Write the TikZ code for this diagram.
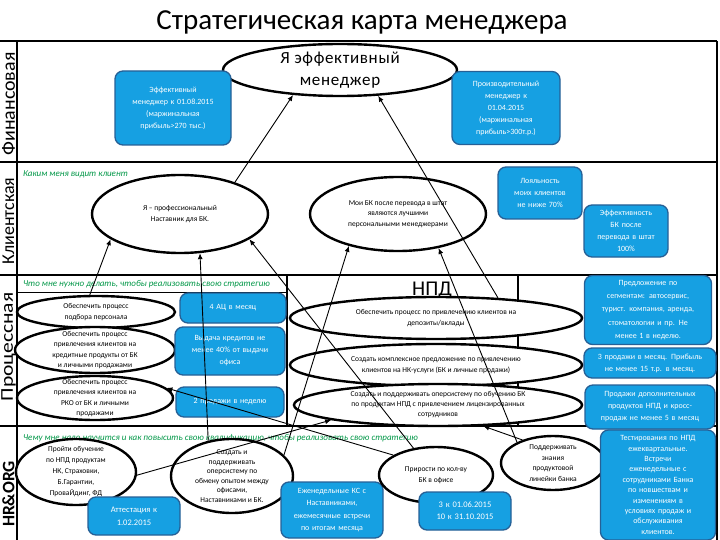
\documentclass[tikz,border=0pt]{standalone}
\usepackage{fontspec}
\setmainfont{Carlito}
\newfontfamily\spacedfont[LetterSpace=4]{Carlito}
\usetikzlibrary{shapes.geometric,arrows.meta}
\definecolor{bfill}{RGB}{22,160,226}
\definecolor{bdraw}{RGB}{38,96,150}
\definecolor{lgreen}{RGB}{0,150,70}
\tikzset{
 bbox/.style={draw=bdraw,fill=bfill,line width=1.3pt,rounded corners=8pt,text=white,align=center,
   font=\fontsize{8}{12}\selectfont,inner sep=1pt},
 ell/.style={ellipse,draw=black,fill=white,line width=2.4pt,inner sep=0pt},
 etext/.style={align=center,font=\fontsize{7.5}{10.5}\selectfont,inner sep=0pt},
 lane/.style={line width=2.2pt},
 thinlane/.style={line width=1pt},
 arr/.style={-{Latex[length=6pt,width=5pt]},line width=0.9pt},
 glabel/.style={text=lgreen,font=\itshape\fontsize{9}{10}\selectfont,anchor=west,inner sep=0pt},
 lanelbl/.style={rotate=90,inner sep=0pt}
}
\begin{document}
\begin{tikzpicture}[x=1pt,y=-1pt]
\useasboundingbox (0,0) rectangle (720,540);
\node (title) at (362,22) {\fontsize{29}{32}\selectfont Стратегическая карта менеджера};

% lanes
\draw[lane] (0,41) -- (717,41);
\draw[lane] (0,162) -- (717,162);
\draw[lane] (0,275) -- (717,275);
\draw[lane] (0,426) -- (717,426);
\draw[lane] (17,41) -- (17,540);
\draw[lane] (717,41) -- (717,540);
\draw[thinlane] (17,292) -- (287,292);
\draw[lane] (287,275) -- (287,426);
\draw[lane] (518,275) -- (518,426);

\node[lanelbl,font=\fontsize{19}{21}\selectfont] (lfin) at (8.5,104) {\scalebox{1.05}[1]{Финансовая}};
\node[lanelbl,font=\fontsize{18}{20}\selectfont] (lcli) at (8.5,221) {Клиентская};
\node[lanelbl,font=\fontsize{18}{20}\selectfont] (lpro) at (8.5,347) {\scalebox{1.2}[1]{Процессная}};
\node[lanelbl,font=\bfseries\fontsize{17.5}{20}\selectfont] (lhr) at (8.5,494) {HR\&ORG};

\node[glabel] (g1) at (23,174) {Каким меня видит клиент};
\node[glabel] (g2) at (23,284) {Что мне нужно делать, чтобы реализовать свою стратегию};
\node[glabel] (g3) at (23,438) {Чему мне надо научится и как повысить свою квалификацию, чтобы реализовать свою стратегию};

% financial
\node[ell,minimum width=234pt,minimum height=52pt,
  label={[etext,font=\spacedfont\fontsize{17}{22}\selectfont]center:{Я эффективный\\менеджер}}] (fe) at (340,70) {};
\node[bbox,minimum width=116pt,minimum height=74pt,text width=100pt] (fb1) at (173,108)
  {Эффективный\\менеджер к 01.08.2015\\(маржинальная\\прибыль>270 тыс.)};
\node[bbox,minimum width=108pt,minimum height=73pt,text width=100pt] (fb2) at (506,108)
  {Производительный\\менеджер к\\01.04.2015\\(маржинальная\\прибыль>300т.р.)};

% client
\node[ell,minimum width=176pt,minimum height=78pt,
  label={[etext]center:{Я – профессиональный\\Наставник для БК.}}] (ce1) at (180,214) {};
\node[ell,minimum width=176pt,minimum height=74pt,
  label={[etext]center:{Мои БК после перевода в штат\\являются лучшими\\персональными менеджерами}}] (ce2) at (398,214) {};
\node[bbox,minimum width=84pt,minimum height=52pt,text width=78pt] (cb1) at (540,193)
  {Лояльность\\моих клиентов\\не ниже 70\%};
\node[bbox,minimum width=84pt,minimum height=52pt,text width=78pt] (cb2) at (626,231)
  {Эффективность\\БК после\\перевода в штат\\100\%};

% process
\node[ell,minimum width=158pt,minimum height=32pt,
  label={[etext]center:{Обеспечить процесс\\подбора персонала}}] (pe1) at (96,312) {};
\node[ell,minimum width=160pt,minimum height=46pt,
  label={[etext]center:{Обеспечить процесс\\привлечения клиентов на\\кредитные продукты от БК\\и личными продажами}}] (pe2) at (95,350) {};
\node[ell,minimum width=156pt,minimum height=44pt,
  label={[etext]center:{Обеспечить процесс\\привлечения клиентов на\\РКО от БК и личными\\продажами}}] (pe3) at (95,398) {};
\node[bbox,minimum width=106pt,minimum height=30pt,text width=100pt] (pb1) at (233,308) {4 АЦ в месяц};
\node[bbox,minimum width=110pt,minimum height=48pt,text width=100pt] (pb2) at (230,351)
  {Выдача кредитов не\\менее 40\% от выдачи\\офиса};
\node[bbox,minimum width=108pt,minimum height=30pt,text width=100pt] (pb3) at (230,402) {2 продажи в неделю};

\node[inner sep=0pt,font=\fontsize{21}{24}\selectfont] (npd) at (432,290) {НПД};
\node[ell,minimum width=292pt,minimum height=42pt,
  label={[etext]center:{Обеспечить процесс по привлечению клиентов на\\депозиты/вклады}}] (n1) at (436,318) {};
\node[ell,minimum width=292pt,minimum height=42pt,
  label={[etext]center:{Создать комплексное предложение по привлечению\\клиентов на НК-услуги (БК и личные продажи)}}] (n2) at (436,365) {};
\node[ell,minimum width=288pt,minimum height=42pt,
  label={[etext,font=\fontsize{7.5}{10}\selectfont]center:{Создать и поддерживать оперсистему по обучению БК\\по продуктам НПД с привлечением лицензированных\\сотрудников}}] (n3) at (438,405) {};

\node[bbox,minimum width=127pt,minimum height=69pt,text width=120pt,font=\fontsize{8}{13.2}\selectfont] (rb1) at (648,310)
  {Предложение по\\сегментам: автосервис,\\турист. компания, аренда,\\стоматологии и пр. Не\\менее 1 в неделю.};
\node[bbox,minimum width=132pt,minimum height=30pt,text width=126pt] (rb2) at (650,363)
  {3 продажи в месяц. Прибыль\\не менее 15 т.р. в месяц.};
\node[bbox,minimum width=130pt,minimum height=44pt,text width=124pt] (rb3) at (650,407)
  {Продажи дополнительных\\продуктов НПД и кросс-\\продаж не менее 5 в месяц};

% HR
\node[ell,minimum width=120pt,minimum height=66pt,
  label={[etext,font=\fontsize{7.5}{11}\selectfont]center:{Пройти обучение\\по НПД продуктам\\НК, Страховки,\\Б.Гарантии,\\ПроваЙдинг, ФД}}] (he1) at (76,472) {};
\node[bbox,minimum width=92pt,minimum height=38pt,text width=86pt,font=\fontsize{8.5}{13}\selectfont] (hb1) at (134,516)
  {Аттестация к\\1.02.2015};
\node[ell,minimum width=122pt,minimum height=74pt,
  label={[etext,font=\fontsize{7.5}{9.5}\selectfont]center:{Создать и\\поддерживать\\оперсистему по\\обмену опытом между\\офисами,\\Наставниками и БК.}}] (he2) at (232,476) {};
\node[bbox,minimum width=102pt,minimum height=56pt,text width=96pt,font=\fontsize{8}{12.5}\selectfont] (hb2) at (332,510)
  {Еженедельные КС с\\Наставниками,\\ежемесячные встречи\\по итогам месяца};
\node[ell,minimum width=114pt,minimum height=56pt,
  label={[etext]center:{Прирости по кол-ву\\БК в офисе}}] (he3) at (436,475) {};
\node[bbox,minimum width=92pt,minimum height=38pt,text width=86pt,font=\fontsize{8.5}{12}\selectfont] (hb3) at (465,511)
  {3 к 01.06.2015\\10 к 31.10.2015};
\node[ell,minimum width=104pt,minimum height=54pt,
  label={[etext]center:{Поддерживать\\знания\\продуктовой\\линейки банка}}] (he4) at (553,463) {};
\node[bbox,minimum width=115pt,minimum height=110pt,text width=108pt,font=\fontsize{8}{10.4}\selectfont] (hb4) at (658,485)
  {Тестирования по НПД\\ежеквартальные.\\Встречи\\еженедельные с\\сотрудниками Банка\\по новшествам и\\изменениям в\\условиях продаж и\\обслуживания\\клиентов.};

% connectors
\draw[arr] (ce1.30) -- (fe.208);
\draw[arr] (n1.18) -- (fe.326);
\draw[arr] (pe1.110) -- (ce1.200);
\draw[arr] (he2.124) -- (ce1.297);
\draw[arr] (he3.130) -- (ce1.340);
\draw[arr] (he2.22) -- (ce2.213);
\draw[arr] (he4.150) -- (ce2.320);
\draw[arr] (he1.357) -- (n3.188);
\draw[arr] (he4.143) -- (n3.335);
\draw[arr] (he3.155) -- (pe3.8);
\end{tikzpicture}
\end{document}
